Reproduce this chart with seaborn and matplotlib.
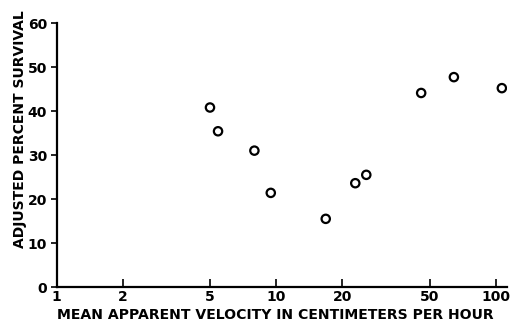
import matplotlib
matplotlib.use("Agg")
import matplotlib.pyplot as plt
import seaborn as sns
import pandas as pd

velocity = [4.99, 5.43, 7.95, 9.44, 16.8, 22.9, 25.7, 45.7, 64.4, 106.5]
survival = [40.8, 35.4, 31.0, 21.4, 15.5, 23.6, 25.5, 44.1, 47.7, 45.2]
x_ticks = [1, 2, 5, 10, 20, 50, 100]
x_tick_labels = ["1", "2", "5", "10", "20", "50", "100"]
y_ticks = [0, 10, 20, 30, 40, 50, 60]
x_label = "MEAN APPARENT VELOCITY IN CENTIMETERS PER HOUR"
y_label = "ADJUSTED PERCENT SURVIVAL"

df = pd.DataFrame({"velocity": velocity, "survival": survival})

sns.set_theme(style="ticks")
plt.rcParams["font.family"] = ["DejaVu Sans"]
plt.rcParams["text.color"] = "black"

fig = plt.figure(figsize=(5.22, 3.24), dpi=100)
ax = fig.add_axes([0.1086, 0.114, 0.862, 0.815])

sns.scatterplot(data=df, x="velocity", y="survival", ax=ax, s=36,
                facecolors="none", edgecolor="black", linewidth=1.6, marker="o")
ax.set_xscale("log")
ax.set_xlim(1, 112)
ax.set_ylim(0, 60)
ax.set_xticks(x_ticks)
ax.set_xticklabels(x_tick_labels)
ax.minorticks_off()
ax.set_yticks(y_ticks)

for s in ["top", "right"]:
    ax.spines[s].set_visible(False)
for s in ["left", "bottom"]:
    ax.spines[s].set_linewidth(1.6)
    ax.spines[s].set_color("black")

ax.tick_params(axis="x", direction="in", length=6, width=1.2, colors="black",
               labelsize=10, pad=2)
ax.tick_params(axis="y", direction="out", length=4, width=1.2, colors="black",
               labelsize=10, pad=3)
for lab in ax.get_xticklabels() + ax.get_yticklabels():
    lab.set_fontweight("bold")

ax.set_xlabel(x_label, fontsize=10, fontweight="bold", color="black")
ax.set_ylabel(y_label, fontsize=10, fontweight="bold", color="black")
ax.xaxis.set_label_coords(0.485, -0.08)
ax.yaxis.set_label_coords(-0.065, 0.60)

# fit label lengths to the reference
fig.canvas.draw()
r = fig.canvas.get_renderer()
xw = ax.xaxis.label.get_window_extent(r).width
ax.xaxis.label.set_fontsize(10 * 440 / xw)
yh = ax.yaxis.label.get_window_extent(r).height
ax.yaxis.label.set_fontsize(10 * 238 / yh)

fig.savefig("out.png", dpi=100)
